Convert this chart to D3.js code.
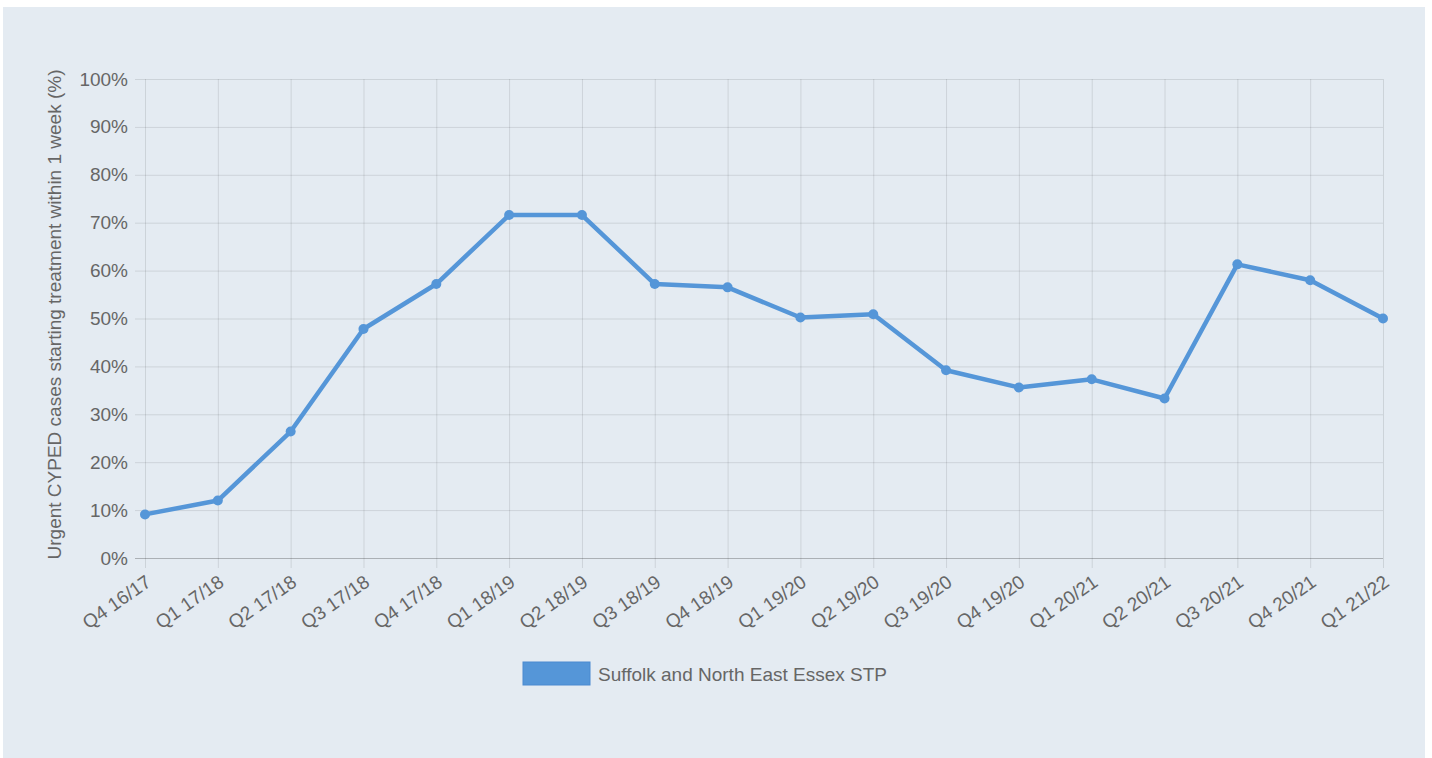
<!DOCTYPE html>
<html>
<head>
<meta charset="utf-8">
<script src="https://cdnjs.cloudflare.com/ajax/libs/d3/7.8.5/d3.min.js"></script>
<style>
  body { margin: 0; background: #fff; }
  svg { display: block; font-family: "Liberation Sans", Arial, sans-serif; }
</style>
</head>
<body>
<div id="chart"></div>
<script>
// quarters shown on the x axis
const quarters = [
  'Q4 16/17', 'Q1 17/18', 'Q2 17/18', 'Q3 17/18', 'Q4 17/18', 'Q1 18/19',
  'Q2 18/19', 'Q3 18/19', 'Q4 18/19', 'Q1 19/20', 'Q2 19/20', 'Q3 19/20',
  'Q4 19/20', 'Q1 20/21', 'Q2 20/21', 'Q3 20/21', 'Q4 20/21', 'Q1 21/22'
];

// % of urgent cases starting treatment within 1 week
const stp_values = [
  9.1, 12.0, 26.4, 47.8, 57.2, 71.6,
  71.6, 57.2, 56.5, 50.2, 50.9, 39.2,
  35.6, 37.3, 33.3, 61.3, 58.0, 50.0
];

const y_ticks = [0, 10, 20, 30, 40, 50, 60, 70, 80, 90, 100];
const series_name = 'Suffolk and North East Essex STP';
const y_title = 'Urgent CYPED cases starting treatment within 1 week (%)';

const LINE_COLOR = '#5596d8';
const TEXT_COLOR = '#666';
const W = 1432, H = 758;
const margin = { top: 79, right: 49, bottom: 200, left: 145 };

let svg = d3.select('#chart')
  .append('svg')
  .attr('width', W)
  .attr('height', H);

// panel background
svg.append('rect')
  .attr('x', 3)
  .attr('y', 7)
  .attr('width', 1422)
  .attr('height', 751)
  .attr('fill', '#e4ebf2');

let width = W - margin.left - margin.right;
let height = H - margin.top - margin.bottom;

let x = d3.scalePoint().domain(quarters).range([0, width]);
let y = d3.scaleLinear().domain([0, 100]).range([height, 0]);

let g = svg.append('g')
  .attr('transform', `translate(${margin.left}, ${margin.top})`);

// horizontal grid + y axis
let yAxis = g.append('g')
  .call(d3.axisLeft(y)
    .tickValues(y_ticks)
    .tickSize(-width - 10)
    .tickPadding(7)
    .tickFormat((d) => d + '%'))
  .attr('transform', 'translate(-10, 0)');
yAxis.select('.domain').remove();
yAxis.selectAll('line')
  .attr('x1', 0)
  .attr('x2', width + 10)
  .attr('stroke', (d) => d === 0 ? 'rgba(0,0,0,0.25)' : 'rgba(0,0,0,0.1)');
yAxis.selectAll('text')
  .attr('fill', TEXT_COLOR)
  .style('font-size', '19px');

// vertical grid + x axis
let xAxis = g.append('g')
  .attr('transform', `translate(0, ${height})`)
  .call(d3.axisBottom(x).tickSize(10).tickPadding(4));
xAxis.select('.domain').remove();
xAxis.selectAll('line')
  .attr('y1', -height)
  .attr('y2', 10)
  .attr('stroke', 'rgba(0,0,0,0.1)');
xAxis.selectAll('text')
  .attr('fill', TEXT_COLOR)
  .style('font-size', '19px')
  .style('text-anchor', 'end')
  .attr('dy', '0.35em')
  .attr('transform', 'translate(-5, 10) rotate(-35)');

// y axis title
svg.append('text')
  .attr('transform', `translate(61, ${margin.top + height / 2 - 4}) rotate(-90)`)
  .attr('text-anchor', 'middle')
  .attr('fill', TEXT_COLOR)
  .style('font-size', '19px')
  .text(y_title);

// the line
g.append('path')
  .datum(stp_values)
  .attr('fill', 'none')
  .attr('stroke', LINE_COLOR)
  .attr('stroke-width', 4.5)
  .attr('stroke-linejoin', 'round')
  .attr('d', d3.line()
    .x((d, i) => x(quarters[i]))
    .y((d) => y(d)));

g.selectAll('circle.pt')
  .data(stp_values)
  .enter()
  .append('circle')
  .attr('class', 'pt')
  .attr('cx', (d, i) => x(quarters[i]))
  .attr('cy', (d) => y(d))
  .attr('r', 5)
  .attr('fill', LINE_COLOR);

// legend
svg.append('rect')
  .attr('x', 523)
  .attr('y', 662)
  .attr('width', 67)
  .attr('height', 23)
  .attr('fill', LINE_COLOR)
  .attr('stroke', '#4a8ad0')
  .attr('stroke-width', 1);

svg.append('text')
  .attr('x', 598)
  .attr('y', 674)
  .attr('dy', '0.35em')
  .attr('fill', TEXT_COLOR)
  .style('font-size', '19px')
  .text(series_name);
</script>
</body>
</html>
